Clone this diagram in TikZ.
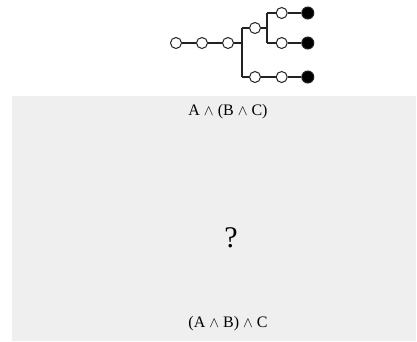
\documentclass[tikz,border=0pt]{standalone}
\usepackage{fontspec}
\setmainfont{Liberation Serif}
\definecolor{panel}{HTML}{EFEFEF}
\definecolor{ink}{HTML}{222222}
\tikzset{
  x=1pt, y=-1pt,
  open/.style={circle, draw=ink, line width=1pt, fill=white, inner sep=0pt, minimum size=11pt},
  full/.style={circle, draw=ink, line width=1pt, fill=black, inner sep=0pt, minimum size=12pt},
  edge/.style={draw=ink, line width=1.1pt},
  label/.style={font=\fontsize{16}{19}\selectfont, inner sep=0pt, text=black},
}
\newcommand{\andop}{\raisebox{0.1ex}{\scalebox{0.85}{$\wedge$}}}
\begin{document}
\begin{tikzpicture}
\useasboundingbox (0,0) rectangle (417,341);
\fill[panel] (12,96) rectangle (415.7,341);

% main chain
\node[open] (r1) at (176,43) {};
\node[open] (r2) at (202,43) {};
\node[open] (r3) at (228,43) {};
\coordinate (j1) at (242,43);
\coordinate (ja) at (242,28);
\coordinate (jb) at (242,77);

% upper branch
\node[open] (u1) at (255,28) {};
\coordinate (j2) at (267,28);
\coordinate (jc) at (267,13);
\coordinate (jd) at (267,43);
\node[open] (t1) at (281.7,13) {};
\node[full] (tf) at (307.8,13) {};
\node[open] (m1) at (281.7,43) {};
\node[full] (mf) at (307.8,43) {};

% lower branch
\node[open] (b1) at (255,77) {};
\node[open] (b2) at (281.7,77) {};
\node[full] (bf) at (307.8,77) {};

\draw[edge] (r1) -- (r2);
\draw[edge] (r2) -- (r3);
\draw[edge] (r3) -- (j1);
\draw[edge] (ja) -- (jb);
\draw[edge] (ja) -- (u1);
\draw[edge] (u1) -- (j2);
\draw[edge] (jc) -- (jd);
\draw[edge] (jc) -- (t1);
\draw[edge] (t1) -- (tf);
\draw[edge] (jd) -- (m1);
\draw[edge] (m1) -- (mf);
\draw[edge] (jb) -- (b1);
\draw[edge] (b1) -- (b2);
\draw[edge] (b2) -- (bf);

% formulas
\node[label] (top) at (228,112) {A \andop{} (B \andop{} C)};
\node[font=\fontsize{30}{34}\selectfont, inner sep=0pt] (q) at (231,238) {?};
\node[label] (bot) at (228,324) {(A \andop{} B) \andop{} C};
\end{tikzpicture}
\end{document}
